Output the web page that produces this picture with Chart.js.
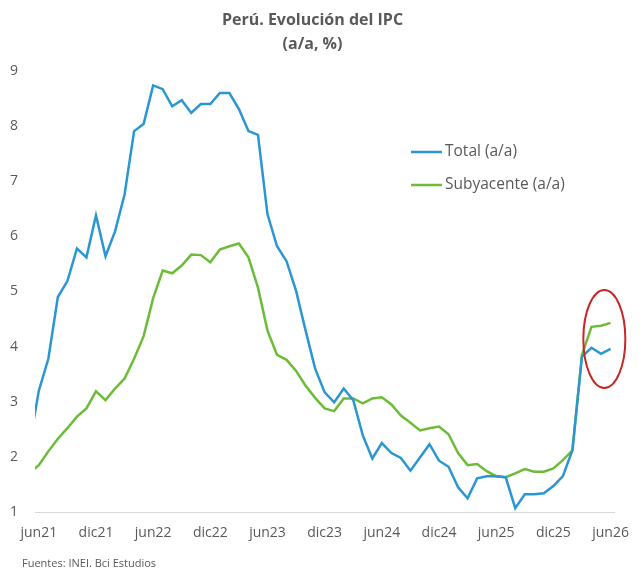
<!DOCTYPE html>
<html>
<head>
<meta charset="utf-8">
<script src="https://cdn.jsdelivr.net/npm/chart.js@4.4.1/dist/chart.umd.min.js"></script>
<style>
  body { margin: 0; background: #fff; }
  .wrap { position: relative; width: 642px; height: 571px; }
  .source { position: absolute; left: 22px; top: 555px; font: 11px "Open Sans", sans-serif; color: #595959; }
</style>
</head>
<body>
<div class="wrap">
  <canvas id="chart"></canvas>
  <div class="source">Fuentes: INEI. Bci Estudios</div>
</div>
<script>
// monthly, may21 .. jun26
const monthNames = ['ene','feb','mar','abr','may','jun','jul','ago','sep','oct','nov','dic'];
const months = [];
for (let y = 21; y <= 26; y++) {
    monthNames.forEach((m, i) => {
        if ((y === 21 && i < 4) || (y === 26 && i > 5)) return;
        months.push(m + y);
    });
}

const total = [
    2.2,
    3.2, 3.78, 4.9, 5.19, 5.78, 5.62, 6.38,
    5.64, 6.09, 6.76, 7.91, 8.04, 8.74,
    8.67, 8.36, 8.47, 8.24, 8.40, 8.40,
    8.60, 8.60, 8.31, 7.91, 7.84, 6.40,
    5.82, 5.55, 5.01, 4.29, 3.60, 3.17,
    2.99, 3.24, 3.03, 2.39, 1.97, 2.25,
    2.07, 1.98, 1.75, 1.99, 2.23, 1.93,
    1.82, 1.45, 1.25, 1.61, 1.65, 1.65,
    1.63, 1.07, 1.32, 1.32, 1.34, 1.47,
    1.65, 2.12, 3.82, 3.98, 3.87, 3.96
];

const subyacente = [
    1.70,
    1.85, 2.10, 2.33, 2.52, 2.73, 2.88, 3.19,
    3.03, 3.24, 3.42, 3.78, 4.19, 4.88,
    5.38, 5.33, 5.47, 5.67, 5.66, 5.53,
    5.76, 5.82, 5.87, 5.62, 5.07, 4.29,
    3.85, 3.76, 3.56, 3.29, 3.07, 2.88,
    2.83, 3.06, 3.06, 2.97, 3.06, 3.08,
    2.95, 2.75, 2.62, 2.48, 2.52, 2.55,
    2.41, 2.07, 1.85, 1.87, 1.74, 1.65,
    1.63, 1.70, 1.78, 1.73, 1.73, 1.79,
    1.94, 2.12, 3.85, 4.36, 4.38, 4.43
];

const tickLabels = ['jun21','dic21','jun22','dic22','jun23','dic23','jun24','dic24','jun25','dic25','jun26'];
const yTicks = [1, 2, 3, 4, 5, 6, 7, 8, 9];

const seriesNames = ['Total (a/a)', 'Subyacente (a/a)'];
const blue = '#2a96d3';
const green = '#6dbc38';
const grey = '#595959';
const font = '"Open Sans", sans-serif';

const toPoints = arr => arr.map((v, i) => ({x: i, y: v}));

// legend drawn inside the plot, like the original
const legendBox = {
    id: 'legendBox',
    afterDraw(chart) {
        const ctx = chart.ctx;
        ctx.save();
        ctx.font = '15.5px ' + font;
        ctx.textBaseline = 'middle';
        chart.data.datasets.forEach((ds, i) => {
            const y = 152 + i * 33;
            ctx.strokeStyle = ds.borderColor;
            ctx.lineWidth = 2.5;
            ctx.beginPath();
            ctx.moveTo(411, y);
            ctx.lineTo(442, y);
            ctx.stroke();
            ctx.fillStyle = grey;
            ctx.fillText(ds.label, 445, y);
        });
        ctx.restore();
    }
};

// red ring around the last months
const ring = {
    id: 'ring',
    afterDraw(chart) {
        const ctx = chart.ctx;
        const cx = chart.scales.x.getPixelForValue(60.35);
        const cy = chart.scales.y.getPixelForValue(4.14);
        ctx.save();
        ctx.strokeStyle = '#c62828';
        ctx.lineWidth = 2;
        ctx.beginPath();
        ctx.ellipse(cx, cy, 21, 49, 0, 0, Math.PI * 2);
        ctx.stroke();
        ctx.restore();
    }
};

const ctx = document.getElementById('chart').getContext('2d');
new Chart(ctx, {
    type: 'line',
    data: {
        datasets: [
            {label: seriesNames[0], data: toPoints(total), borderColor: blue, borderWidth: 2.5, pointRadius: 0, tension: 0},
            {label: seriesNames[1], data: toPoints(subyacente), borderColor: green, borderWidth: 2.5, pointRadius: 0, tension: 0}
        ]
    },
    options: {
        responsive: true,
        maintainAspectRatio: false,
        animation: false,
        layout: {padding: {left: 0, right: 17, top: 0, bottom: 0}},
        plugins: {
            legend: {display: false},
            tooltip: {enabled: false},
            title: {
                display: true,
                text: ['Perú. Evolución del IPC', '(a/a, %)'],
                color: grey,
                font: {family: font, size: 16, weight: 'bold', lineHeight: 1.5},
                padding: {top: 8, bottom: 15}
            }
        },
        scales: {
            x: {
                type: 'linear',
                min: 0.6,
                max: 61.4,
                afterFit: s => { s.height = 59; },
                afterBuildTicks: s => {
                    s.ticks = tickLabels.map(t => ({value: months.indexOf(t)}));
                },
                ticks: {
                    color: grey,
                    font: {family: font, size: 14},
                    padding: 13,
                    maxRotation: 0,
                    callback: v => months[v]
                },
                grid: {display: false, drawTicks: false},
                border: {display: true, color: '#d9d9d9', width: 1}
            },
            y: {
                min: yTicks[0],
                max: yTicks[yTicks.length - 1],
                afterFit: s => { s.width = 35; },
                afterBuildTicks: s => { s.ticks = yTicks.map(v => ({value: v})); },
                ticks: {
                    color: grey,
                    font: {family: font, size: 14},
                    padding: 17
                },
                grid: {display: false, drawTicks: false},
                border: {display: false}
            }
        }
    },
    plugins: [legendBox, ring]
});
</script>
</body>
</html>
